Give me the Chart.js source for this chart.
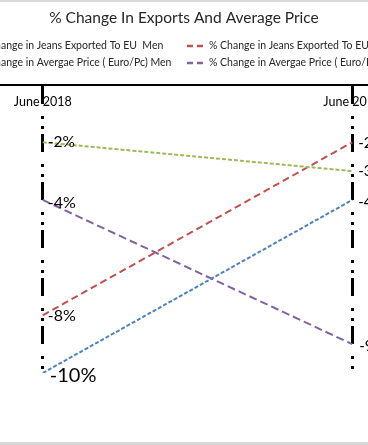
<!DOCTYPE html>
<html><head><meta charset="utf-8">
<script src="https://cdn.jsdelivr.net/npm/chart.js@4"></script>
<style>
html,body{margin:0;padding:0;width:368px;height:445px;overflow:hidden;background:#d9d9d9;}
#wrap{position:absolute;left:-139px;top:2px;width:646px;height:440px;background:#fff;}
#wrap canvas{display:block}
</style></head><body>
<div id="wrap"><canvas id="c" width="646" height="440"></canvas></div>
<script>
// ---- data ----
const categories = ['June 2018', 'June 2019'];
const seriesNames = [
  '% Change in Jeans Exported To EU  Men',
  '% Change in Jeans Exported To EU Women',
  '% Change in Avergae Price ( Euro/Pc) Men',
  '% Change in Avergae Price ( Euro/Pc) Women'
];
const exportsMen = [-2, -3];
const exportsWomen = [-8, -2];
const priceMen = [-10, -4];
const priceWomen = [-4, -9];
const titleText = '% Change In Exports And Average Price';

// ---- styles ----
const FONT = 'Lato';
const colors = ['#9bbb59', '#c0504d', '#4f81bd', '#8064a2'];
const dashes = [[4, 2], [7, 4], [4, 2], [8, 4]];
const labelSizes = [[15.5, 15], [16, 15], [20, 15], [16, 15]];
const labelDx = [[5, 6], [5, 6], [7, 6], [5, 7]];
const labelDy = [[0, 0], [1, 1], [3, 2], [3, 2]];

const seriesValues = [exportsMen, exportsWomen, priceMen, priceWomen];

const datasets = seriesValues.map((vals, i) => ({
  label: seriesNames[i],
  data: vals,
  borderColor: colors[i],
  backgroundColor: colors[i],
  borderDash: dashes[i],
  borderWidth: 2,
  pointRadius: 0,
  tension: 0,
  fill: false
}));

const dataLabelPlugin = {
  id: 'dataLabels',
  afterDatasetsDraw(chart) {
    const ctx = chart.ctx;
    ctx.save();
    ctx.fillStyle = '#000';
    ctx.textAlign = 'left';
    ctx.textBaseline = 'middle';
    chart.data.datasets.forEach((ds, i) => {
      const meta = chart.getDatasetMeta(i);
      meta.data.forEach((pt, j) => {
        ctx.font = labelSizes[i][j] + 'px ' + FONT;
        ctx.fillText(ds.data[j] + '%', pt.x + labelDx[i][j], pt.y + labelDy[i][j]);
      });
    });
    ctx.restore();
  }
};

const legendPlugin = {
  id: 'colLegend',
  afterDraw(chart) {
    const ctx = chart.ctx;
    const colX = [94, 326];
    const rowY = [44, 61];
    ctx.save();
    ctx.font = '10.5px ' + FONT;
    ctx.textBaseline = 'middle';
    ctx.textAlign = 'left';
    chart.data.datasets.forEach((ds, i) => {
      const x = colX[i % 2], y = rowY[Math.floor(i / 2)];
      ctx.strokeStyle = ds.borderColor;
      ctx.lineWidth = 2.5;
      ctx.setLineDash([6, 4]);
      ctx.beginPath();
      ctx.moveTo(x, y);
      ctx.lineTo(x + 16, y);
      ctx.stroke();
      ctx.setLineDash([]);
      ctx.fillStyle = '#262626';
      ctx.fillText(ds.label, x + 22, y);
    });
    ctx.restore();
  }
};

new Chart(document.getElementById('c'), {
  type: 'line',
  data: { labels: categories, datasets },
  plugins: [dataLabelPlugin, legendPlugin],
  options: {
    responsive: false,
    animation: false,
    layout: { padding: { left: 0, right: 0, top: 0, bottom: 69 } },
    plugins: {
      legend: { display: false },
      tooltip: { enabled: false },
      title: {
        display: true,
        text: titleText,
        color: '#262626',
        font: { family: FONT, size: 15.5, weight: 'normal' },
        padding: { top: 7, bottom: 37 }
      }
    },
    scales: {
      x: {
        type: 'category',
        position: 'top',
        offset: true,
        grid: { color: '#000', lineWidth: 3, drawTicks: false },
        border: { display: true, color: '#000', width: 2, dash: [18, 12, 3, 7, 3, 5] },
        ticks: { mirror: true, padding: 10, color: '#000', font: { family: FONT, size: 12.5 }, maxRotation: 0, autoSkip: false }
      },
      y: {
        type: 'linear',
        position: 'left',
        min: -10,
        max: 0,
        ticks: { display: false },
        grid: { display: false },
        border: { display: false },
        afterFit(s) { s.width = 27; }
      }
    }
  }
});
</script>
</body></html>
